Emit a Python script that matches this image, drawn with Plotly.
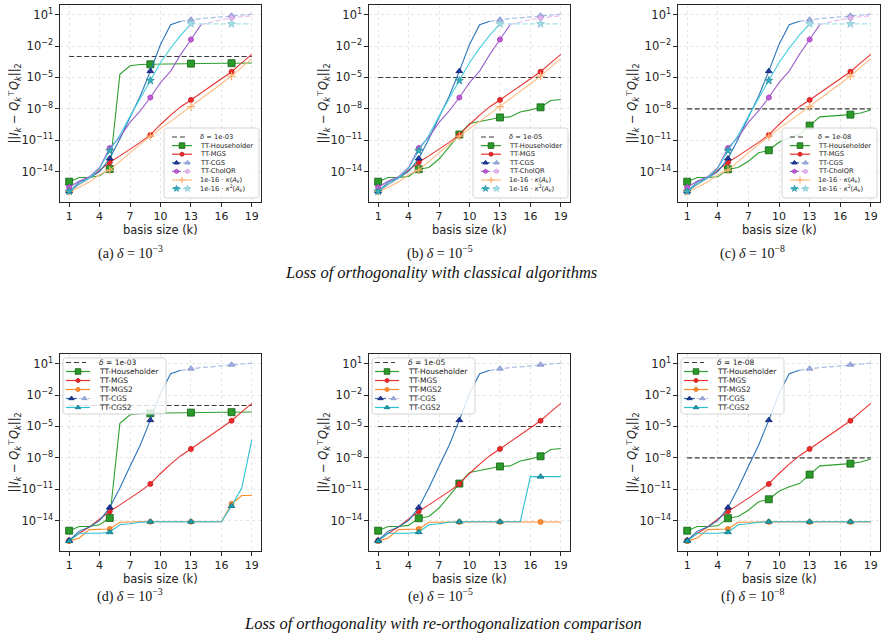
import math
import plotly.graph_objects as go

W, H = 881, 636

# ---------------- data ----------------
k = list(range(1, 20))
marker_k = [1, 5, 9, 13, 17]
x_ticks = [1, 4, 7, 10, 13, 16, 19]
y_tick_exp = [1, -2, -5, -8, -11, -14]

deltas = [1e-3, 1e-5, 1e-8]
delta_labels = ["1e-03", "1e-05", "1e-08"]
caption_exp = ["\u22123", "\u22125", "\u22128"]
captions_top = ["(a)", "(b)", "(c)"]
captions_bottom = ["(d)", "(e)", "(f)"]
title_top = "Loss of orthogonality with classical algorithms"
title_bottom = "Loss of orthogonality with re-orthogonalization comparison"

hh_d3 = [1.1e-15, 2.8e-15, 2.8e-15, 4.0e-15, 1.8e-14, 2.0e-5, 1.3e-4, 1.7e-4, 1.8e-4, 1.9e-4,
         2.0e-4, 2.05e-4, 2.1e-4, 2.15e-4, 2.2e-4, 2.25e-4, 2.3e-4, 2.35e-4, 2.4e-4]
hh_d5 = [1.1e-15, 2.8e-15, 2.8e-15, 3.5e-15, 1.7e-14, 2.5e-14, 1.6e-13, 2.5e-12, 3.5e-11, 4.0e-10,
         6.3e-10, 1.0e-9, 1.5e-9, 1.7e-9, 5.0e-9, 7.9e-9, 1.4e-8, 6.3e-8, 7.9e-8]
hh_d8 = [1.1e-15, 2.8e-15, 2.8e-15, 3.2e-15, 1.7e-14, 2.5e-14, 1.0e-13, 6.3e-13, 1.1e-12, 6.3e-12,
         1.7e-11, 3.5e-11, 2.5e-10, 1.7e-9, 2.0e-9, 2.4e-9, 2.8e-9, 4.0e-9, 7.9e-9]
mgs = [1.3e-16, 6.3e-16, 2.5e-15, 1.3e-14, 7.9e-14, 3.2e-13, 1.3e-12, 6.3e-12, 3.2e-11, 3.2e-10,
       2.5e-9, 1.6e-8, 7.1e-8, 3.2e-7, 1.6e-6, 7.9e-6, 3.5e-5, 2.5e-4, 1.6e-3]
cgs = [1.3e-16, 1.0e-15, 2.5e-15, 1.0e-14, 1.8e-13, 1.3e-11, 1.6e-9, 1.6e-7, 4.0e-5, 1.4e-2,
       1.1, 2.3, 3.3, 4.2, 5.0, 6.0, 7.9, 9.5, 11.0]
cholqr = [3.2e-16, 1.3e-15, 3.2e-15, 2.5e-14, 1.8e-12, 2.0e-11, 5.0e-10, 6.3e-9, 1.2e-7, 3.2e-6,
          4.0e-5, 1.6e-3, 4.2e-2, 1.1, 2.0, 3.2, 4.8, 6.3, 8.0]
kappa = [1.3e-16, 3.2e-16, 1.0e-15, 5.0e-15, 1.4e-14, 1.0e-13, 6.3e-13, 4.0e-12, 2.5e-11, 1.3e-10,
         6.3e-10, 3.2e-9, 1.6e-8, 8.9e-8, 5.0e-7, 2.5e-6, 1.35e-5, 8.9e-5, 6.3e-4]
kappa2 = [1.3e-16, 6.3e-16, 2.5e-15, 2.0e-14, 1.0e-12, 3.2e-11, 2.0e-9, 1.0e-7, 5.0e-6, 2.5e-4,
          6.3e-3, 0.11, 1.3, 1.3, 1.3, 1.3, 1.3, 1.3, 1.3]
mgs2_d3 = [1.1e-16, 2.2e-16, 1.4e-15, 1.4e-15, 1.6e-15, 7.1e-15, 7.9e-15, 7.9e-15, 7.9e-15, 7.9e-15,
           7.9e-15, 7.9e-15, 7.9e-15, 7.9e-15, 7.9e-15, 7.9e-15, 4.0e-13, 2.5e-12, 2.5e-12]
mgs2_d5 = [1.1e-16, 2.2e-16, 1.4e-15, 1.4e-15, 1.6e-15, 7.1e-15, 7.5e-15, 7.5e-15, 7.5e-15, 7.5e-15,
           7.5e-15, 7.5e-15, 7.5e-15, 7.5e-15, 7.5e-15, 7.5e-15, 7.5e-15, 7.5e-15, 7.5e-15]
mgs2_d8 = [1.1e-16, 2.2e-16, 1.4e-15, 1.4e-15, 1.6e-15, 7.1e-15, 7.5e-15, 7.5e-15, 7.5e-15, 7.5e-15,
           7.5e-15, 7.5e-15, 7.5e-15, 7.5e-15, 7.5e-15, 7.5e-15, 7.5e-15, 7.5e-15, 7.5e-15]
cgs2_d3 = [1.1e-16, 6.3e-16, 6.3e-16, 6.3e-16, 7.9e-16, 4.0e-15, 5.0e-15, 7.1e-15, 7.9e-15, 7.9e-15,
           7.9e-15, 7.9e-15, 7.9e-15, 7.9e-15, 7.9e-15, 7.9e-15, 2.5e-13, 1.3e-11, 5.6e-7]
cgs2_d5 = [1.1e-16, 6.3e-16, 6.3e-16, 6.3e-16, 7.9e-16, 4.0e-15, 5.0e-15, 7.1e-15, 7.9e-15, 7.9e-15,
           7.9e-15, 7.9e-15, 7.9e-15, 7.9e-15, 7.9e-15, 1.6e-10, 1.6e-10, 1.6e-10, 1.6e-10]
cgs2_d8 = [1.1e-16, 6.3e-16, 6.3e-16, 6.3e-16, 7.9e-16, 4.0e-15, 5.0e-15, 7.1e-15, 7.9e-15, 7.9e-15,
           7.9e-15, 7.9e-15, 7.9e-15, 7.9e-15, 7.9e-15, 7.9e-15, 7.9e-15, 7.9e-15, 7.9e-15]

split_cgs = 12
split_cholqr = 14
split_kappa2 = 13

# ---------------- styles ----------------
ST = {
    "delta": dict(color="#3a3a3a"),
    "hh": dict(line="#2ca02c", sym="square", size=7, mc="#2a9a2a", me="#156015"),
    "mgs": dict(line="#e8322e", sym="circle", size=5, mc="#ee2a2a", me="#c01818"),
    "mgs2": dict(line="#ff8c2e", sym="circle", size=5, mc="#ff8a30", me="#e07010"),
    "cgs": dict(line="#2a74b8", sym="triangle-up", size=6, mc="#1f3a9e", me="#0c1c6a",
                light="#a9bde6", lmc="#a0aee2", lme="#8090c8"),
    "chol": dict(line="#9b62c8", sym="hexagon", size=5.5, mc="#c25ad6", me="#a040b8",
                 light="#e0bdee", lmc="#e2b6ee", lme="#d0a0e0"),
    "kap": dict(line="#ffbb80", sym="cross-thin", size=6, mc="#ffae70", me="#ffae70"),
    "kap2": dict(line="#45cfe0", sym="star", size=6, mc="#3ab0c0", me="#2890a0",
                 light="#a8e2ea", lmc="#a6dee6", lme="#88c8d2"),
    "cgs2": dict(line="#2ac0d4", sym="triangle-up", size=6, mc="#1aa0b0", me="#0c7080"),
}

cols = [(60, 261), (369, 570), (678, 880)]
rows = [(5, 202), (354, 551)]

fig = go.Figure()


def ax_suffix(i):
    return "" if i == 1 else str(i)


def px2paper_x(px):
    return px / W


def px2paper_y(py):
    return 1 - py / H


def add_line(i, xs, ys, color, width=1.1, dash=None):
    s = ax_suffix(i)
    fig.add_trace(go.Scatter(x=xs, y=ys, mode="lines",
                             line=dict(color=color, width=width, dash=dash),
                             xaxis="x" + s, yaxis="y" + s, showlegend=False, hoverinfo="skip"))


def make_marker(st, size, color, edge):
    if st["sym"] == "cross-thin":
        return dict(symbol="cross-thin", size=size, color=color,
                    line=dict(color=edge, width=1.2))
    return dict(symbol=st["sym"], size=size, color=color, line=dict(color=edge, width=0.8))


def add_series(i, y, st, split=None):
    s = ax_suffix(i)
    if split is None:
        add_line(i, k, y, st["line"])
    else:
        idx = k.index(split)
        add_line(i, k[idx:], y[idx:], st["light"], 1.2, "5px,2.5px")
        add_line(i, k[:idx + 1], y[:idx + 1], st["line"])
    mk = marker_k
    my = [y[kk - 1] for kk in mk]
    light = [split is not None and kk >= split for kk in mk]
    mcol = [st["lmc"] if l else st["mc"] for l in light]
    mecol = [st["lme"] if l else st["me"] for l in light]
    if st["sym"] == "cross-thin":
        mcol, mecol = st["mc"], st["me"]
    fig.add_trace(go.Scatter(x=mk, y=my, mode="markers",
                             marker=make_marker(st, st["size"], mcol, mecol),
                             xaxis="x" + s, yaxis="y" + s, showlegend=False, hoverinfo="skip"))


# ---------------- panels ----------------
panels = [(r, c) for r in range(2) for c in range(3)]

hh_sets = [hh_d3, hh_d5, hh_d8]
mgs2_sets = [mgs2_d3, mgs2_d5, mgs2_d8]
cgs2_sets = [cgs2_d3, cgs2_d5, cgs2_d8]

for n, (r, c) in enumerate(panels):
    i = n + 1
    add_line(i, k, [deltas[c]] * len(k), ST["delta"]["color"], 1.1, "5px,2.5px")
    add_series(i, hh_sets[c], ST["hh"])
    add_series(i, mgs, ST["mgs"])
    if r == 0:
        add_series(i, cgs, ST["cgs"], split_cgs)
        add_series(i, cholqr, ST["chol"], split_cholqr)
        add_series(i, kappa, ST["kap"])
        add_series(i, kappa2, ST["kap2"], split_kappa2)
    else:
        add_series(i, mgs2_sets[c], ST["mgs2"])
        add_series(i, cgs, ST["cgs"], split_cgs)
        add_series(i, cgs2_sets[c], ST["cgs2"])

layout = dict(width=W, height=H, margin=dict(l=0, r=0, t=0, b=0),
              plot_bgcolor="white", paper_bgcolor="white", showlegend=False,
              font=dict(family="DejaVu Sans", color="#222222"))
annotations = []

ytext = ["10<sup>%s</sup>" % (str(e).replace("-", "\u2212")) for e in y_tick_exp]
ytitle = ("||<i>I<sub>k</sub></i> \u2212 <i>Q</i><sub><i>k</i></sub><sup>\u22a4</sup>"
          "<i>Q</i><sub><i>k</i></sub>||<sub>2</sub>")

for n, (r, c) in enumerate(panels):
    i = n + 1
    s = ax_suffix(i)
    x0, x1 = cols[c]
    y0, y1 = rows[r]
    axis_common = dict(showline=True, mirror=True, linecolor="#262626", linewidth=1.2,
                       ticks="outside", ticklen=3.5, tickwidth=1, tickcolor="#262626",
                       showgrid=True, gridcolor="#e6e6e6", gridwidth=0.8, griddash="dot",
                       zeroline=False, tickfont=dict(size=11, color="#222222"))
    layout["xaxis" + s] = dict(axis_common, domain=[px2paper_x(x0), px2paper_x(x1)],
                               anchor="y" + s, range=[0.1, 19.9], tickvals=x_ticks)
    layout["yaxis" + s] = dict(axis_common, domain=[px2paper_y(y1), px2paper_y(y0)],
                               anchor="x" + s, type="log", range=[-16.9, 1.92],
                               tickvals=[10.0 ** e for e in y_tick_exp], ticktext=ytext,
                               tickfont=dict(size=11.5, color="#222222"))
    # overlay axes for the legend (pixel units inside plot area)
    pw, ph = x1 - x0, y1 - y0
    li = i + 6
    layout["xaxis%d" % li] = dict(overlaying="x" + s, range=[0, pw], visible=False)
    layout["yaxis%d" % li] = dict(overlaying="y" + s, range=[0, ph], visible=False)

    # axis titles
    annotations.append(dict(text="basis size (k)", x=px2paper_x((x0 + x1) / 2),
                            y=px2paper_y(y1 + 28), xref="paper", yref="paper",
                            showarrow=False, font=dict(size=11.5, color="#222222"),
                            xanchor="center", yanchor="middle"))
    annotations.append(dict(text=ytitle, x=px2paper_x(x0 - 46), y=px2paper_y((y0 + y1) / 2),
                            xref="paper", yref="paper", showarrow=False, textangle=-90,
                            font=dict(size=11.5, color="#222222"),
                            xanchor="center", yanchor="middle"))

    # ---- legend ----
    xr, yr = "x%d" % li, "y%d" % li

    def Y(top):
        return ph - top

    if r == 0:
        box = (104, 199, 123, 193)
        row_y = [132, 140.6, 149.2, 157.8, 166.4, 175, 183.6]
        hx = (112, 132)
        tx = 138
        fs = 6.7
        entries = [("delta", "<i>\u03b4</i> = " + delta_labels[c]),
                   ("hh", "TT-Householder"), ("mgs", "TT-MGS"), ("cgs", "TT-CGS"),
                   ("chol", "TT-CholQR"),
                   ("kap", "1e-16 \u00b7 <i>\u03ba</i>(<i>A<sub>k</sub></i>)"),
                   ("kap2", "1e-16 \u00b7 <i>\u03ba</i><sup>2</sup>(<i>A<sub>k</sub></i>)")]
        tuples = {"cgs", "chol", "kap2"}
    else:
        box = (3, 106, 4, 60)
        row_y = [8.5, 17.5, 26.5, 35.5, 44.5, 53.5]
        hx = (6, 30)
        tx = 37
        fs = 7.5
        entries = [("delta", "<i>\u03b4</i> = " + delta_labels[c]),
                   ("hh", "TT-Householder"), ("mgs", "TT-MGS"), ("mgs2", "TT-MGS2"),
                   ("cgs", "TT-CGS"), ("cgs2", "TT-CGS2")]
        tuples = {"cgs"}

    bx0, bx1, bt0, bt1 = box
    rad = 2.5
    pts_x, pts_y = [], []
    corners = [(bx1 - rad, bt0 + rad, -90, 0), (bx1 - rad, bt1 - rad, 0, 90),
               (bx0 + rad, bt1 - rad, 90, 180), (bx0 + rad, bt0 + rad, 180, 270)]
    for cx, cy, a0, a1 in corners:
        for t in range(0, 7):
            a = math.radians(a0 + (a1 - a0) * t / 6)
            pts_x.append(cx + rad * math.cos(a))
            pts_y.append(Y(cy + rad * math.sin(a)))
    pts_x.append(pts_x[0])
    pts_y.append(pts_y[0])
    fig.add_trace(go.Scatter(x=pts_x, y=pts_y, mode="lines", fill="toself",
                             fillcolor="rgba(255,255,255,0.82)",
                             line=dict(color="#cfcfcf", width=0.9),
                             xaxis=xr, yaxis=yr, showlegend=False, hoverinfo="skip"))

    for (key, label), ty in zip(entries, row_y):
        yy = Y(ty)
        if key == "delta":
            fig.add_trace(go.Scatter(x=[hx[0], hx[1] - 4], y=[yy, yy], mode="lines",
                                     line=dict(color=ST["delta"]["color"], width=1.1,
                                               dash="5px,3px"),
                                     xaxis=xr, yaxis=yr, showlegend=False, hoverinfo="skip"))
        else:
            st = ST[key]
            if key in tuples:
                mid = (hx[0] + hx[1]) / 2
                segs = [((hx[0], mid - 1), st["line"], st["mc"], st["me"], None),
                        ((mid + 1, hx[1]), st["light"], st["lmc"], st["lme"], "3px,1.5px")]
            else:
                segs = [((hx[0], hx[1]), st["line"], st["mc"], st["me"], None)]
            for (sx0, sx1), lc, mc, me, dsh in segs:
                fig.add_trace(go.Scatter(x=[sx0, sx1], y=[yy, yy], mode="lines",
                                         line=dict(color=lc, width=1.2, dash=dsh),
                                         xaxis=xr, yaxis=yr, showlegend=False,
                                         hoverinfo="skip"))
                fig.add_trace(go.Scatter(x=[(sx0 + sx1) / 2], y=[yy], mode="markers",
                                         marker=make_marker(st, st["size"] * 0.8, mc, me),
                                         xaxis=xr, yaxis=yr, showlegend=False,
                                         hoverinfo="skip"))
        annotations.append(dict(text=label, x=tx, y=yy, xref=xr, yref=yr, showarrow=False,
                                xanchor="left", yanchor="middle",
                                font=dict(size=fs, color="#222222")))

# captions and titles
cap_x = [130, 440, 752]
for c in range(3):
    for caps, cy in [(captions_top, 252), (captions_bottom, 595)]:
        annotations.append(dict(text="%s <i>\u03b4</i> = 10<sup>%s</sup>" % (caps[c], caption_exp[c]),
                                x=px2paper_x(cap_x[c]), y=px2paper_y(cy), xref="paper", yref="paper",
                                showarrow=False, xanchor="center", yanchor="middle",
                                font=dict(family="Liberation Serif", size=14, color="#111111")))
annotations.append(dict(text="<i>%s</i>" % title_top, x=px2paper_x(441), y=px2paper_y(272),
                        xref="paper", yref="paper", showarrow=False, xanchor="center",
                        yanchor="middle",
                        font=dict(family="Liberation Serif", size=16.5, color="#111111")))
annotations.append(dict(text="<i>%s</i>" % title_bottom, x=px2paper_x(443), y=px2paper_y(623),
                        xref="paper", yref="paper", showarrow=False, xanchor="center",
                        yanchor="middle",
                        font=dict(family="Liberation Serif", size=16.5, color="#111111")))

layout["annotations"] = annotations
fig.update_layout(**layout)
fig.write_html("out.html")
